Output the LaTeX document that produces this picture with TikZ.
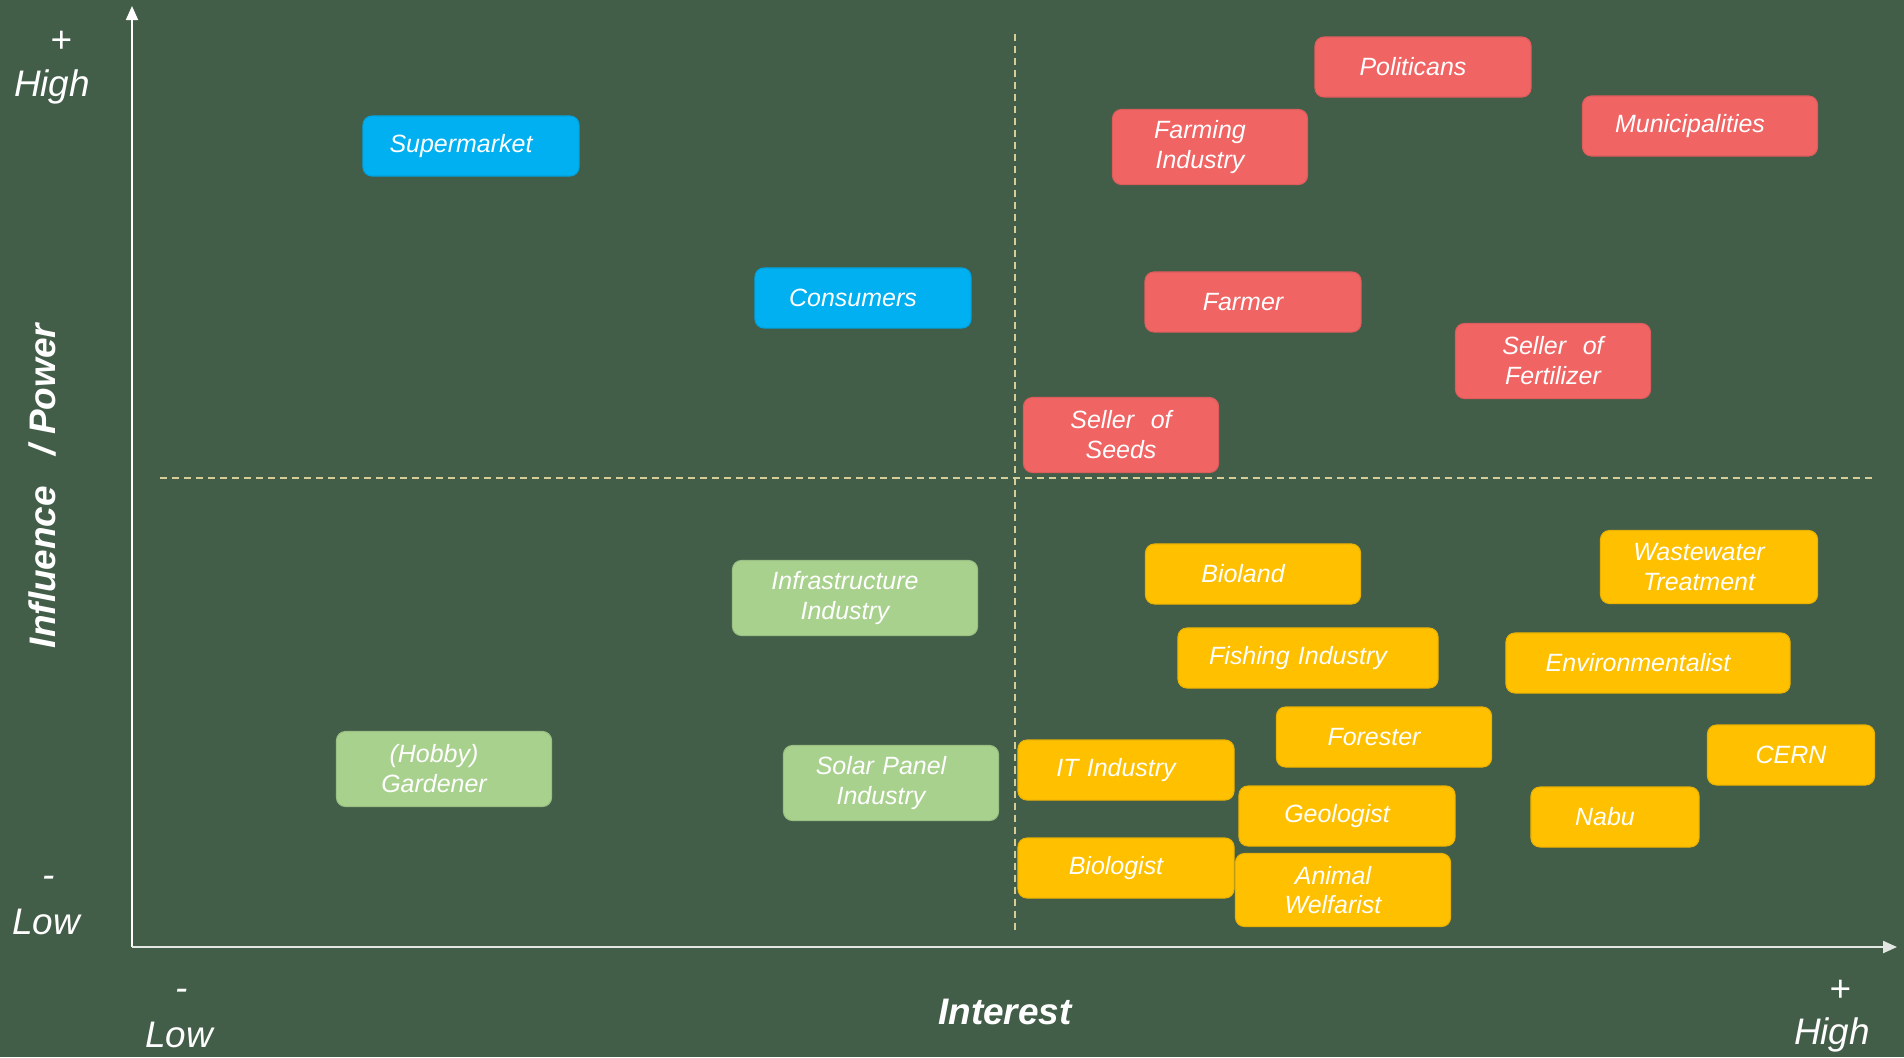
\documentclass[tikz,border=0pt]{standalone}
\usepackage{fontspec}
\setmainfont{Liberation Sans}
\usepackage{xcolor}
\usetikzlibrary{arrows.meta,positioning}

\definecolor{boardgreen}{RGB}{66,94,72}
\definecolor{keyblue}{RGB}{0,176,240}
\definecolor{keyred}{RGB}{240,100,100}
\definecolor{keyyellow}{RGB}{255,192,0}
\definecolor{keygreen}{RGB}{169,209,142}
\definecolor{gridline}{RGB}{214,206,150}

\begin{document}
\begin{tikzpicture}[
  x=0.01cm, y=-0.01cm,
  box/.style={rectangle, rounded corners=0.09cm, align=center, text=white, inner xsep=0pt, inner ysep=2pt,
    font=\itshape\fontsize{7.1}{8.5}\selectfont, text width=2.16cm, minimum height=0.6cm,
    execute at begin node={\advance\rightskip by 0.2cm}},
  tall/.style={minimum height=0.75cm},
  centred/.style={execute at begin node={\advance\rightskip by -0.2cm}},
  bluebox/.style={box, fill=keyblue, draw=keyblue!92!black, line width=0.3pt},
  redbox/.style={box, fill=keyred, draw=keyred!92!black, line width=0.3pt},
  yellowbox/.style={box, fill=keyyellow, draw=keyyellow!92!black, line width=0.3pt},
  greenbox/.style={box, fill=keygreen, draw=keygreen!92!black, line width=0.3pt},
  axislabel/.style={text=white, font=\itshape\fontsize{10.5}{12}\selectfont, inner sep=0pt},
  divider/.style={gridline, line width=0.4pt, dash pattern=on 0.07cm off 0.05cm}
]
  % board and frame
  \fill[boardgreen] (0,0) rectangle (1904,1057);
  \useasboundingbox (0,0) rectangle (1904,1057);

  % axes
  \coordinate (origin) at (132,947);
  \coordinate (ytop) at (132,6);
  \coordinate (xend) at (1897,947);
  \draw[white, line width=0.5pt, -{Triangle[width=0.12cm,length=0.14cm]}] (origin) -- (ytop);
  \draw[white!85!boardgreen, line width=0.6pt, -{Triangle[width=0.12cm,length=0.14cm]}] (origin) -- (xend);

  % quadrant dividers
  \coordinate (vtop) at (1015,34);
  \coordinate (vbot) at (1015,933);
  \coordinate (hleft) at (160,478);
  \coordinate (hright) at (1872,478);
  \draw[divider] (vtop) -- (vbot);
  \draw[divider] (hleft) -- (hright);

  % axis labels
  \node[axislabel] (yplus) at (61,42) {+};
  \node[axislabel] (yhigh) at (52,87) {High};
  \node[axislabel] (yminus) at (49,882) {-};
  \node[axislabel] (ylow) at (46,922) {Low};
  \node[axislabel] (xminus) at (182,995) {-};
  \node[axislabel] (xlow) at (179,1035) {Low};
  \node[axislabel] (xplus) at (1840,991) {+};
  \node[axislabel] (xhigh) at (1832,1035) {High};
  \node[axislabel, font=\bfseries\itshape\fontsize{10.5}{12}\selectfont] (xname) at (1005,1012) {Interest};
  \node[axislabel, font=\bfseries\itshape\fontsize{10.5}{12}\selectfont, rotate=90] (yname) at (42,486) {Influence\ \ \ / Power};

  % high influence, low interest
  \node[bluebox] (supermarket) at (471,146) {Supermarket};
  \node[bluebox] (consumers) at (863,298) {Consumers};

  % high influence, high interest
  \node[redbox] (politicans) at (1423,67) {Politicans};
  \node[redbox, tall, text width=1.95cm] (farmingind) at (1210,147) {Farming\\Industry};
  \node[redbox, text width=2.35cm] (municipalities) at (1700,126) {Municipalities};
  \node[redbox] (farmer) at (1253,302) {Farmer};
  \node[redbox, tall, centred, text width=1.95cm] (sellerfert) at (1553,361) {Seller\ \ of\\Fertilizer};
  \node[redbox, tall, centred, text width=1.95cm] (sellerseeds) at (1121,435) {Seller\ \ of\\Seeds};

  % low influence, low interest
  \node[greenbox, tall, text width=2.45cm] (infrastructure) at (855,598) {Infrastructure\\Industry};
  \node[greenbox, tall, text width=2.15cm] (gardener) at (444,769) {(Hobby)\\Gardener};
  \node[greenbox, tall, text width=2.15cm] (solarpanel) at (891,783) {Solar Panel\\Industry};

  % low influence, high interest
  \node[yellowbox, text width=2.15cm] (bioland) at (1253,574) {Bioland};
  \node[yellowbox, text width=2.17cm, minimum height=0.73cm] (wastewater) at (1709,567) {Wastewater\\Treatment};
  \node[yellowbox, text width=2.6cm] (fishing) at (1308,658) {Fishing Industry};
  \node[yellowbox, text width=2.84cm] (environmentalist) at (1648,663) {Environmentalist};
  \node[yellowbox, text width=2.15cm] (forester) at (1384,737) {Forester};
  \node[yellowbox, centred, text width=1.67cm] (cern) at (1791,755) {CERN};
  \node[yellowbox] (itindustry) at (1126,770) {IT Industry};
  \node[yellowbox] (geologist) at (1347,816) {Geologist};
  \node[yellowbox, text width=1.68cm] (nabu) at (1615,817) {Nabu};
  \node[yellowbox] (biologist) at (1126,868) {Biologist};
  \node[yellowbox, text width=2.15cm, minimum height=0.73cm] (animalwelf) at (1343,890) {Animal\\Welfarist};
\end{tikzpicture}
\end{document}
